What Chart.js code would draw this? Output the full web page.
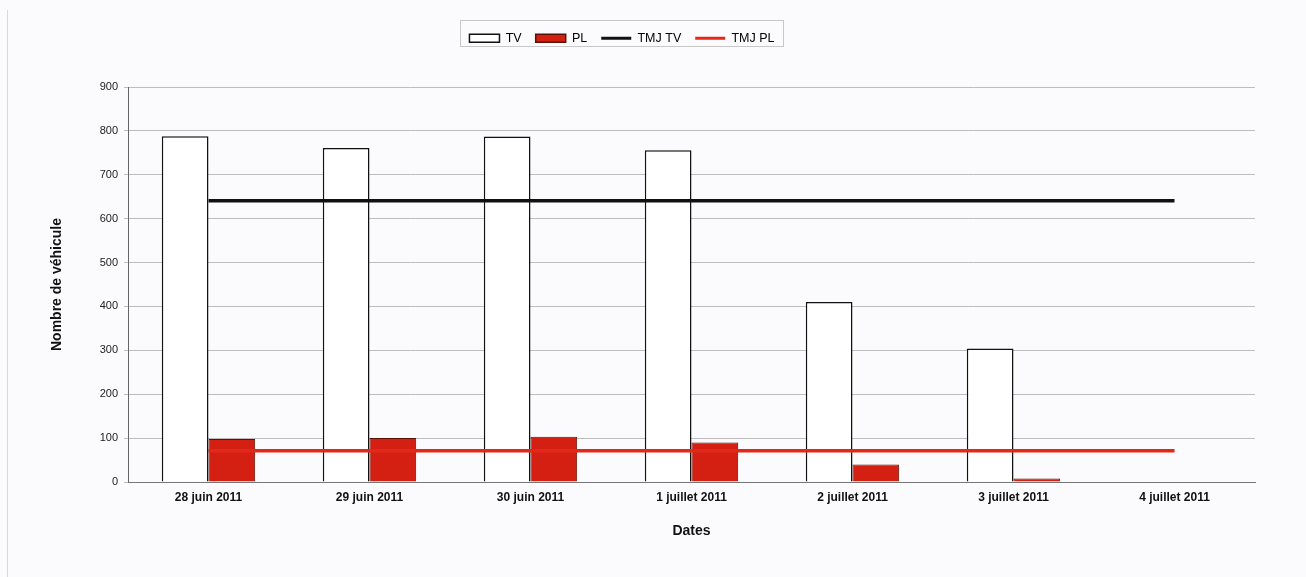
<!DOCTYPE html>
<html>
<head>
<meta charset="utf-8">
<script src="https://cdn.jsdelivr.net/npm/chart.js@4"></script>
<style>
  html, body { margin: 0; padding: 0; background: #fbfbfd; }
  #wrap { position: relative; width: 1306px; height: 577px; }
  #wrap:before { content: ""; position: absolute; left: 7px; top: 10px; bottom: 0; border-left: 1px solid #d8d8dc; }
</style>
</head>
<body>
<div id="wrap"><canvas id="chart" width="1306" height="577"></canvas></div>
<script>
// categories
const dates = ["28 juin 2011", "29 juin 2011", "30 juin 2011", "1 juillet 2011", "2 juillet 2011", "3 juillet 2011", "4 juillet 2011"];
// counts per day
const tv = [788, 761, 787, 756, 410, 304, null];
const pl = [98, 100, 103, 90, 40, 8, null];
// daily averages
const tmjTv = [641, 641, 641, 641, 641, 641, 641];
const tmjPl = [71, 71, 71, 71, 71, 71, 71];
const yTicks = [0, 100, 200, 300, 400, 500, 600, 700, 800, 900];

const font = "'Liberation Sans', Arial, sans-serif";

// box around the legend, legend sits a bit left of centre
const legendBox = {
  id: "legendBox",
  beforeInit(chart) {
    const origFit = chart.legend.fit;
    chart.legend.fit = function () {
      origFit.call(this);
      this.height = 69;
    };
  },
  afterLayout(chart) {
    chart.legend.left -= 28;
    chart.legend.right -= 28;
  },
  afterDraw(chart) {
    const boxes = chart.legend.legendHitBoxes;
    if (!boxes || !boxes.length) return;
    const left = Math.min(...boxes.map(b => b.left)) - 9;
    const right = Math.max(...boxes.map(b => b.left + b.width)) + 9;
    const ctx = chart.ctx;
    ctx.save();
    ctx.strokeStyle = "#c8c8c8";
    ctx.lineWidth = 1;
    ctx.strokeRect(Math.round(left) + 0.5, 20.5, Math.round(right - left), 26);
    ctx.restore();
  }
};

new Chart(document.getElementById("chart").getContext("2d"), {
  data: {
    labels: dates,
    datasets: [
      { type: "bar", label: "TV", data: tv, backgroundColor: "#ffffff", borderColor: "#111111", borderWidth: 1.5, order: 1 },
      { type: "bar", label: "PL", data: pl, backgroundColor: "#d32012", borderColor: "#5a1208", borderWidth: 1, order: 1 },
      { type: "line", label: "TMJ TV", data: tmjTv, borderColor: "#111111", borderWidth: 3.5, pointRadius: 0, order: 0 },
      { type: "line", label: "TMJ PL", data: tmjPl, borderColor: "#e3281a", borderWidth: 3.5, pointRadius: 0, order: 0 }
    ]
  },
  options: {
    responsive: false,
    animation: false,
    layout: { padding: { left: 45, right: 51, top: 18, bottom: 33 } },
    datasets: { bar: { categoryPercentage: 0.58, barPercentage: 1.0 } },
    plugins: {
      tooltip: { enabled: false },
      legend: {
        position: "top",
        labels: {
          usePointStyle: true,
          pointStyleWidth: 30,
          boxHeight: 8,
          padding: 14,
          color: "#111",
          font: { family: font, size: 12.5 },
          generateLabels(chart) {
            return chart.data.datasets.map((ds, i) => {
              const isLine = ds.type === "line";
              return {
                text: ds.label,
                datasetIndex: i,
                fillStyle: isLine ? ds.borderColor : ds.backgroundColor,
                strokeStyle: ds.borderColor,
                lineWidth: isLine ? 3 : 1.5,
                pointStyle: isLine ? "line" : "rect",
                hidden: false
              };
            });
          }
        }
      }
    },
    scales: {
      x: {
        grid: { display: false, drawTicks: false },
        border: { color: "#777", width: 1 },
        ticks: { color: "#111", padding: 8, font: { family: font, size: 12, weight: "bold" }, maxRotation: 0 },
        title: { display: true, text: "Dates", color: "#111", padding: { top: 16 }, font: { family: font, size: 14, weight: "bold" } },
        afterFit(axis) { axis.height = 62; }
      },
      y: {
        min: 0,
        max: 900,
        afterBuildTicks(axis) { axis.ticks = yTicks.map(v => ({ value: v })); },
        grid: { color: "#bdbdbd", lineWidth: 1, tickLength: 4 },
        border: { color: "#666", width: 1 },
        ticks: { color: "#222", padding: 6, font: { family: font, size: 11 } },
        title: { display: true, text: "Nombre de véhicule", color: "#111", padding: 4, font: { family: font, size: 14, weight: "bold" } },
        afterFit(axis) { axis.width = 83; }
      }
    }
  },
  plugins: [legendBox]
});
</script>
</body>
</html>
